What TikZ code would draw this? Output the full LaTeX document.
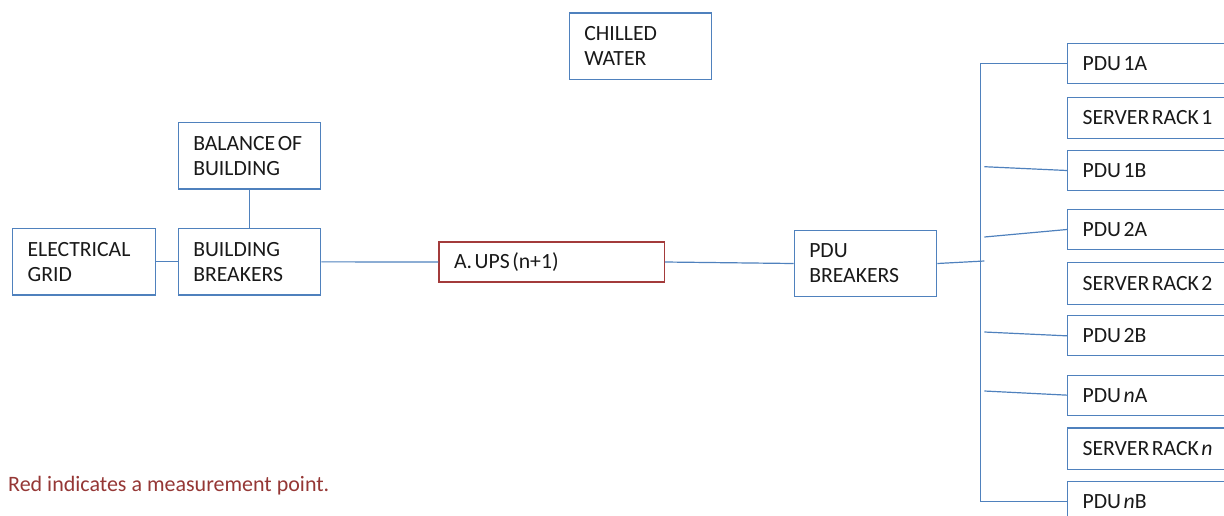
\documentclass[tikz,border=0pt]{standalone}
\usepackage{fontspec}
\setmainfont{Carlito}
\definecolor{lineblue}{HTML}{4F81BD}
\definecolor{upsred}{HTML}{A33B3B}
\definecolor{notered}{HTML}{953735}
\newcommand\boxtextfont{\fontsize{21.7}{25}\selectfont}
\newcommand\tightspaces{\spaceskip 2.5pt plus 1pt\relax}
\begin{document}
\begin{tikzpicture}[x=1pt,y=-1pt,
  box/.style={draw=lineblue, line width=1.2pt, inner xsep=15pt, inner ysep=0pt,
    align=left, font=\boxtextfont, text=black!90, execute at begin node=\tightspaces},
  wbox/.style={box, minimum width=142.5pt, text width=112.5pt, minimum height=66.3pt},
  rbox/.style={box, minimum width=185pt, text width=155pt, minimum height=40pt, anchor=west},
  conn/.style={draw=lineblue, line width=1.2pt}]
\useasboundingbox (0,0) rectangle (1224,515);
% left part
\node[wbox] (grid) at (83.85,261.85) {ELECTRICAL\\GRID};
\node[wbox] (bb) at (249.5,261.85) {BUILDING\\BREAKERS};
\node[wbox, minimum height=66.7pt] (bal) at (249.5,155.65) {BALANCE OF\\BUILDING};
\node[box, draw=upsred, minimum width=225.3pt, text width=195.3pt, minimum height=40pt] (ups) at (551.65,262) {A. UPS (n+1)};
\node[wbox] (pdub) at (865.5,263.5) {PDU\\BREAKERS};
\node[wbox] (cw) at (640.5,46.15) {CHILLED\\WATER};
% right column
\node[rbox] (pdu1a) at (1067,63.7) {PDU 1A};
\node[rbox, minimum height=41pt] (sr1) at (1067,117.8) {SERVER RACK 1};
\node[rbox] (pdu1b) at (1067,170.5) {PDU 1B};
\node[rbox] (pdu2a) at (1067,229.5) {PDU 2A};
\node[rbox, minimum height=42pt] (sr2) at (1067,283.3) {SERVER RACK 2};
\node[rbox] (pdu2b) at (1067,335.85) {PDU 2B};
\node[rbox] (pduna) at (1067,395.15) {PDU \textit{n}A};
\node[rbox, minimum height=41.7pt] (srn) at (1067,448.85) {SERVER RACK \textit{n}};
\node[rbox] (pdunb) at (1067,501.7) {PDU \textit{n}B};
% note
\node[anchor=base west, inner sep=0pt, font=\fontsize{22}{26}\selectfont, text=notered] (note) at (8,491) {Red indicates a measurement point.};
% coordinates
\coordinate (bustop) at (980.3,63.7);
\coordinate (busbot) at (980.3,501.7);
\coordinate (j0) at (984.3,261);
\coordinate (j1) at (984.3,166.7);
\coordinate (j2) at (984.3,237);
\coordinate (j3) at (984.3,332);
\coordinate (j4) at (984.3,391);
% connectors
\draw[conn] (grid.east) -- (bb.west);
\draw[conn] (bal.south) -- (bb.north);
\draw[conn] (bb.east) -- (ups.west);
\draw[conn] (ups.east) -- (pdub.west);
\draw[conn] (pdub.east) -- (j0);
\draw[conn] (pdu1a.west) -- (bustop) -- (busbot) -- (pdunb.west);
\draw[conn] (j1) -- (pdu1b.west);
\draw[conn] (j2) -- (pdu2a.west);
\draw[conn] (j3) -- (pdu2b.west);
\draw[conn] (j4) -- (pduna.west);
\end{tikzpicture}
\end{document}
